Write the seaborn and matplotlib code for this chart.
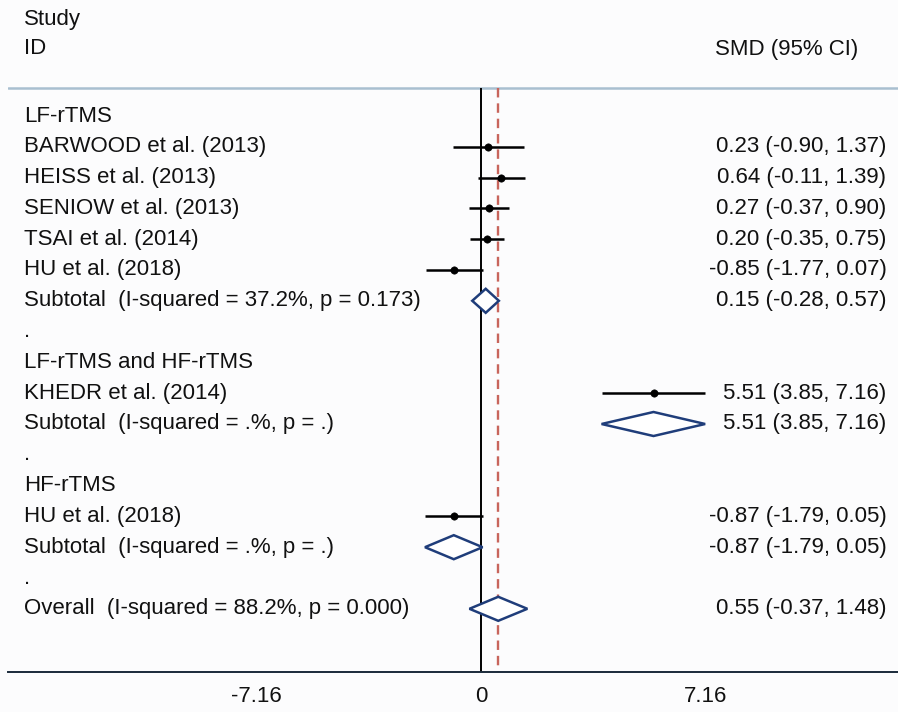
import numpy as np
import pandas as pd
import matplotlib
matplotlib.use("Agg")
import matplotlib.pyplot as plt
from matplotlib.patches import Polygon
import seaborn as sns

# rows of the forest plot, top to bottom
labels = ["LF-rTMS",
          "BARWOOD et al. (2013)", "HEISS et al. (2013)", "SENIOW et al. (2013)",
          "TSAI et al. (2014)", "HU et al. (2018)",
          "Subtotal  (I-squared = 37.2%, p = 0.173)", ".",
          "LF-rTMS and HF-rTMS",
          "KHEDR et al. (2014)",
          "Subtotal  (I-squared = .%, p = .)", ".",
          "HF-rTMS",
          "HU et al. (2018)",
          "Subtotal  (I-squared = .%, p = .)", ".",
          "Overall  (I-squared = 88.2%, p = 0.000)"]
kind = ["head", "study", "study", "study", "study", "study", "pool", "blank",
        "head", "study", "pool", "blank", "head", "study", "pool", "blank", "pool"]
smd = [np.nan, 0.23, 0.64, 0.27, 0.20, -0.85, 0.15, np.nan,
       np.nan, 5.51, 5.51, np.nan, np.nan, -0.87, -0.87, np.nan, 0.55]
lower = [np.nan, -0.90, -0.11, -0.37, -0.35, -1.77, -0.28, np.nan,
         np.nan, 3.85, 3.85, np.nan, np.nan, -1.79, -1.79, np.nan, -0.37]
upper = [np.nan, 1.37, 1.39, 0.90, 0.75, 0.07, 0.57, np.nan,
         np.nan, 7.16, 7.16, np.nan, np.nan, 0.05, 0.05, np.nan, 1.48]
overall = 0.55
tick_vals = [-7.16, 0, 7.16]
tick_labels = ["-7.16", "0", "7.16"]

df = pd.DataFrame({"label": labels, "kind": kind, "smd": smd,
                   "lo": lower, "hi": upper})
df["row"] = np.arange(len(df))

sns.set_style("white")
plt.rcParams["font.family"] = ["Liberation Sans", "DejaVu Sans"]
plt.rcParams["text.color"] = "#111111"

fig = plt.figure(figsize=(8.98, 7.12), dpi=100, facecolor="#fcfcfd")
ax = fig.add_axes([8 / 898, 40 / 712, 890 / 898, 672 / 712])
ax.set_facecolor("#fcfcfd")

# row r sits at pixel 116 + 30.8 r ; axes spans pixel 0..672
px = lambda p: (p - 116) / 30.8
ax.set_xlim(-15.11, 13.32)
ax.set_ylim(px(672), px(0))

top = px(88)
ax.axhline(top, color="#a9bfd0", lw=1.8)
ax.vlines(0, top, px(672), color="black", lw=1.4)
ax.vlines(overall, top, px(672), color="#c8655c", lw=1.7, linestyles=(0, (4, 2.5)))

studies = df[df.kind == "study"]
ax.hlines(studies.row, studies.lo, studies.hi, color="black", lw=1.8)
sns.scatterplot(data=studies, x="smd", y="row", color="black", s=28,
                marker="o", edgecolor="black", ax=ax, zorder=3)

for _, r in df[df.kind == "pool"].iterrows():
    h = 0.39
    d = Polygon([(r.lo, r.row), (r.smd, r.row - h), (r.hi, r.row), (r.smd, r.row + h)],
                closed=True, facecolor="white", edgecolor="#1f3d7a", lw=1.8, zorder=4)
    ax.add_patch(d)

fs = 16
for _, r in df.iterrows():
    ax.text(-14.6, r.row, r.label, ha="left", va="center", fontsize=fs)
    if not np.isnan(r.smd):
        ax.text(12.95, r.row, f"{r.smd:.2f} ({r.lo:.2f}, {r.hi:.2f})",
                ha="right", va="center", fontsize=fs)

ax.text(-14.6, px(19), "Study", ha="left", va="center", fontsize=fs)
ax.text(-14.6, px(49), "ID", ha="left", va="center", fontsize=fs)
ax.text(12.05, px(49), "SMD (95% CI)", ha="right", va="center", fontsize=fs)

for s in ["top", "left", "right"]:
    ax.spines[s].set_visible(False)
ax.spines["bottom"].set_color("#1a2a3a")
ax.spines["bottom"].set_linewidth(1.4)
ax.set_yticks([])
ax.set_xticks(tick_vals)
ax.set_xticklabels(tick_labels, fontsize=fs)
ax.tick_params(axis="x", direction="out", length=10, width=1.4, color="#1a2a3a",
               labelcolor="#111111", pad=0)
ax.set_xlabel("")
ax.set_ylabel("")

fig.savefig("out.png", dpi=100, facecolor=fig.get_facecolor())
